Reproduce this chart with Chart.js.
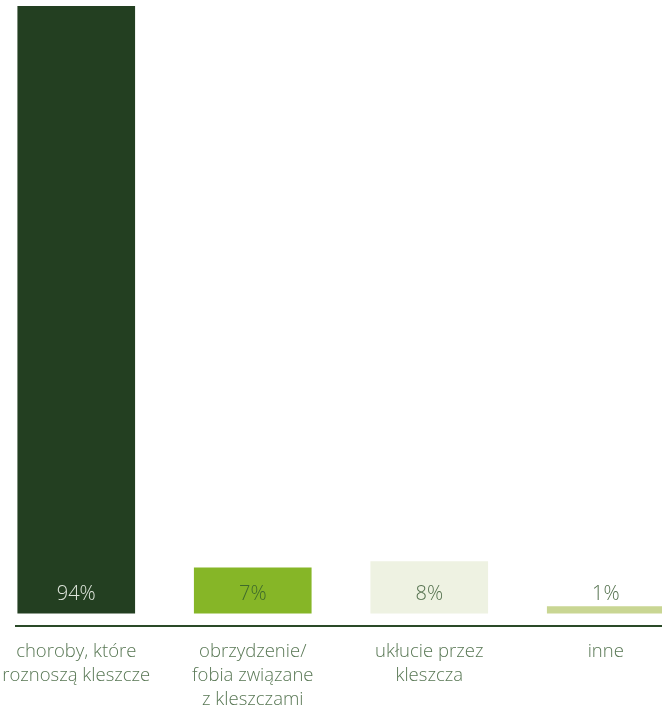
<!DOCTYPE html>
<html lang="pl">
<head>
<meta charset="utf-8">
<script src="https://cdn.jsdelivr.net/npm/chart.js@4"></script>
<style>
  html, body { margin: 0; padding: 0; background: #ffffff; overflow: hidden; width: 662px; height: 713px; }
  #wrap { position: absolute; left: -12px; top: 0; width: 706px; height: 713px; }
</style>
</head>
<body>
<div id="wrap"><canvas id="graphKleszcze"></canvas></div>
<script>
// Dane wykresu
const A_categories = [
  ["choroby, które", "roznoszą kleszcze"],
  ["obrzydzenie/", "fobia związane", "z kleszczami"],
  ["ukłucie przez", "kleszcza"],
  ["inne"],
];
const A_values = [94, 7, 8, 1];
const A_valueLabels = ["94%", "7%", "8%", "1%"];
const A_barColors = ["#233f21", "#86b627", "#eef2e2", "#c9d693"];
const A_labelColors = ["#dfe6dc", "#3f6a2c", "#55724f", "#55724f"];

const S_font = "'Open Sans', 'Source Sans Pro', sans-serif";

// Etykiety wartości na dole słupków + linia osi
const O_labelsPlugin = {
  id: "valueLabels",
  afterDatasetsDraw(O_chart) {
    const O_ctx = O_chart.ctx;
    const O_meta = O_chart.getDatasetMeta(0);
    const N_base = O_chart.scales.y.getPixelForValue(0);
    O_ctx.save();
    O_ctx.font = "300 20px " + S_font;
    O_ctx.textAlign = "center";
    O_ctx.textBaseline = "middle";
    O_meta.data.forEach((O_bar, I_i) => {
      O_ctx.fillStyle = A_labelColors[I_i];
      O_ctx.fillText(A_valueLabels[I_i], O_bar.x, N_base - 19);
    });
    // linia osi
    const N_axisY = O_chart.chartArea.bottom;
    O_ctx.strokeStyle = "#2a4a28";
    O_ctx.lineWidth = 2;
    O_ctx.beginPath();
    O_ctx.moveTo(27, N_axisY);
    O_ctx.lineTo(O_chart.width, N_axisY);
    O_ctx.stroke();
    O_ctx.restore();
  },
};

new Chart(document.getElementById("graphKleszcze").getContext("2d"), {
  type: "bar",
  data: {
    labels: A_categories,
    datasets: [
      {
        data: A_values,
        backgroundColor: A_barColors,
        borderWidth: 0,
        barThickness: 117,
      },
    ],
  },
  options: {
    responsive: true,
    maintainAspectRatio: false,
    animation: false,
    layout: { padding: 0 },
    plugins: {
      legend: { display: false },
      tooltip: { enabled: false },
    },
    scales: {
      x: {
        grid: { display: false, drawTicks: false },
        border: { display: false },
        ticks: {
          color: "#587754",
          font: { family: S_font, size: 18.5, weight: 300, lineHeight: 1.3 },
          padding: 14,
          maxRotation: 0,
          autoSkip: false,
        },
        afterFit: (O_scale) => {
          O_scale.height = 87;
          O_scale.paddingLeft = 0;
          O_scale.paddingRight = 0;
        },
      },
      y: {
        display: false,
        min: -2,
        max: 95,
      },
    },
  },
  plugins: [O_labelsPlugin],
});
</script>
</body>
</html>
